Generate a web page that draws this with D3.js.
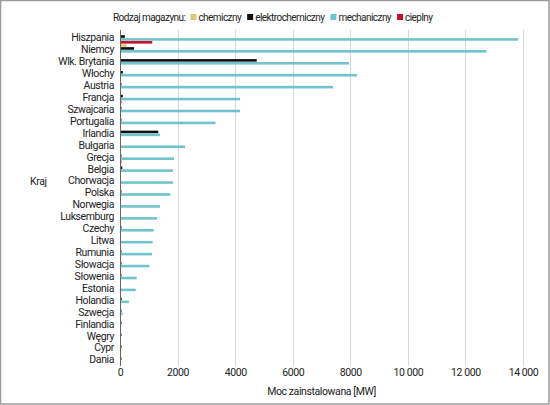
<!DOCTYPE html>
<html>
<head>
<meta charset="utf-8">
<script src="https://cdn.jsdelivr.net/npm/d3@7"></script>
<style>
body{margin:0;background:#fff;}
svg text{font-family:Roboto,"Liberation Sans Narrow","DejaVu Sans Condensed",sans-serif;fill:#222;letter-spacing:-0.4px;}
svg .leg text{letter-spacing:-0.55px;}
</style>
</head>
<body>
<div id="chart"></div>
<script>
// kraje, od najwiekszej mocy
var countries=["Hiszpania","Niemcy","Wlk. Brytania","Włochy","Austria","Francja","Szwajcaria","Portugalia","Irlandia","Bułgaria","Grecja","Belgia","Chorwacja","Polska","Norwegia","Luksemburg","Czechy","Litwa","Rumunia","Słowacja","Słowenia","Estonia","Holandia","Szwecja","Finlandia","Węgry","Cypr","Dania"];
var seriesNames=["chemiczny","elektrochemiczny","mechaniczny","cieplny"];
var seriesColors=["#dccb72","#111111","#72c4cc","#c8102e"];
// moc [MW]
var chemiczny=[0,230,0,0,0,0,0,0,0,0,0,0,0,0,0,0,0,0,0,0,0,0,0,0,0,0,0,0];
var elektrochemiczny=[170,490,4750,100,10,100,10,10,1330,0,10,80,0,20,0,0,20,0,20,20,40,0,60,20,30,30,20,30];
var mechaniczny=[13830,12730,7960,8230,7400,4170,4170,3320,1390,2260,1875,1840,1840,1750,1390,1285,1170,1135,1110,1020,580,545,310,90,0,0,0,0];
var cieplny=[1120,0,0,0,0,20,0,0,0,0,30,0,0,0,0,0,0,0,0,0,0,0,0,0,0,0,0,0];
var xTicks=[0,2000,4000,6000,8000,10000,12000,14000];

var width=550, height=405;
var plotL=120, plotR=523, plotT=32, plotB=366;
var allSeries=[chemiczny,elektrochemiczny,mechaniczny,cieplny];

var rows=countries.map(function(c,i){
	return {kraj:c, vals:seriesNames.map(function(s,j){return {s:s,v:allSeries[j][i],c:seriesColors[j]};})};
});

var svg=d3.select("#chart").append("svg").attr("width",width).attr("height",height);
svg.append("rect").attr("x",0.5).attr("y",0.5).attr("width",width-1.5).attr("height",height-1.5)
	.attr("fill","#fff").attr("stroke","#9a9a9a").attr("stroke-width",1.5);

var x=d3.scaleLinear().domain([0,14000]).range([plotL,plotR]);
var y=d3.scaleBand().domain(countries).range([plotT,plotB]);
var ySub=d3.scaleBand().domain(seriesNames).range([0.3,y.bandwidth()-0.3]).paddingInner(0.1);

// siatka
svg.append("g").selectAll("line").data(xTicks).enter().append("line")
	.attr("x1",function(d){return Math.round(x(d))+0.5;}).attr("x2",function(d){return Math.round(x(d))+0.5;})
	.attr("y1",30).attr("y2",plotB)
	.attr("stroke","#d9d9d9").attr("stroke-width",1);

var fmt=function(d){return d>=10000 ? d3.format(",")(d).replace(/,/g," ") : String(d);};
var xAxis=svg.append("g").attr("transform","translate(0,"+plotB+")")
	.call(d3.axisBottom(x).tickValues(xTicks).tickFormat(fmt).tickSize(0).tickPadding(3));
xAxis.select(".domain").remove();
xAxis.selectAll("text").attr("font-size","10.5px").attr("fill","#222");

// slupki
var g=svg.append("g").selectAll("g").data(rows).enter().append("g")
	.attr("transform",function(d){return "translate(0,"+y(d.kraj)+")";});
g.selectAll("rect").data(function(d){return d.vals.filter(function(v){return v.v>0;});}).enter().append("rect")
	.attr("x",x(0)).attr("y",function(d){return ySub(d.s);})
	.attr("width",function(d){return Math.max(x(d.v)-x(0),1.5);})
	.attr("height",ySub.bandwidth())
	.attr("fill",function(d){return d.c;});

var yAxis=svg.append("g").attr("transform","translate("+plotL+",0)")
	.call(d3.axisLeft(y).tickSize(0).tickPadding(6));
yAxis.select(".domain").attr("stroke","#666").attr("d","M0.5,30V"+plotB);
yAxis.selectAll("text").attr("font-size","10.5px").attr("fill","#222");

// tytuly osi
svg.append("text").attr("x",(plotL+plotR)/2).attr("y",395).attr("text-anchor","middle")
	.attr("font-size","10.5px").text("Moc zainstalowana [MW]");
svg.append("text").attr("x",30).attr("y",185).attr("font-size","10.5px").text("Kraj");

// legenda, pozycje liczone z szerokosci tekstu
var leg=svg.append("g").attr("class","leg").attr("transform","translate(113,21)");
var t0=leg.append("text").attr("x",0).attr("y",0).attr("font-size","10px").text("Rodzaj magazynu:");
var cx=t0.node().getComputedTextLength()+5;
seriesNames.forEach(function(s,i){
	leg.append("rect").attr("x",cx).attr("y",-7).attr("width",6).attr("height",6).attr("fill",seriesColors[i]);
	var t=leg.append("text").attr("x",cx+8).attr("y",0).attr("font-size","10px").text(s);
	cx+=8+t.node().getComputedTextLength()+6;
});
</script>
</body>
</html>
